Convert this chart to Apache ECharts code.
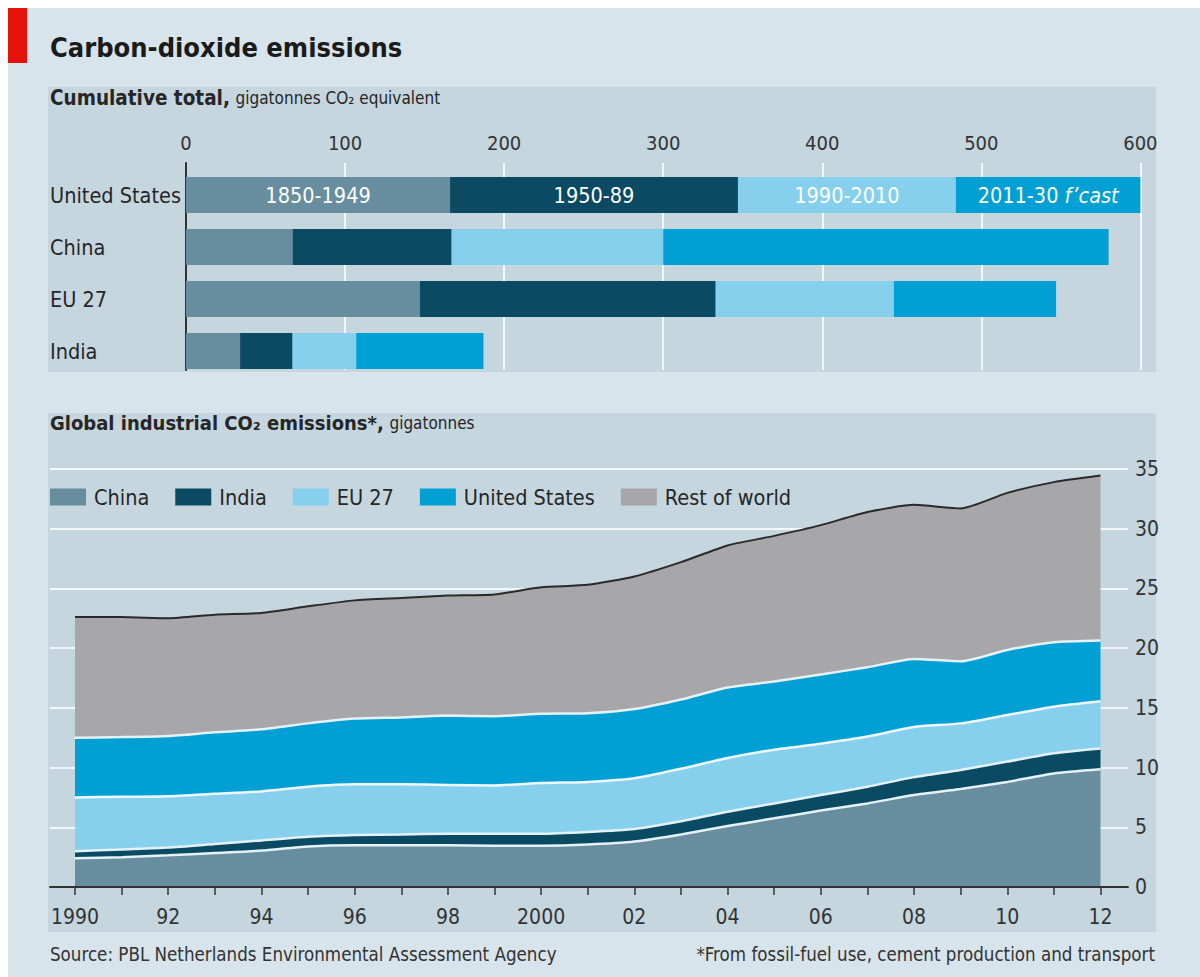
<!DOCTYPE html>
<html><head><meta charset="utf-8">
<script src="https://cdn.jsdelivr.net/npm/echarts@6/dist/echarts.min.js"></script>
<style>
body{margin:0;background:#fff;width:1200px;height:977px;position:relative;overflow:hidden}
#bg{position:absolute;left:8px;top:8px;width:1192px;height:969px;background:#d8e4eb}
.panel{position:absolute;background:#c5d6df}
#p1{left:48px;top:87px;width:1108px;height:285px}
#p2{left:48px;top:413px;width:1108px;height:519px}
#red{position:absolute;left:8px;top:8px;width:19px;height:55px;background:#e3120b}
#chart{position:absolute;left:0;top:0;width:1200px;height:977px}
</style></head>
<body>
<div id="bg"></div><div id="p1" class="panel"></div><div id="p2" class="panel"></div><div id="red"></div>
<div id="chart"></div>
<script>
// ---- Top chart: cumulative totals, gigatonnes CO2 equivalent ----
const barCountries = ['United States', 'China', 'EU 27', 'India'];
const p1850_1949 = [166, 67, 147, 34];
const p1950_89   = [181, 100, 186, 33];
const p1990_2010 = [137, 133, 112, 40];
const p2011_30   = [119, 280, 102, 80];
const barTicks = [0, 100, 200, 300, 400, 500, 600];

// ---- Bottom chart: global industrial CO2 emissions, gigatonnes ----
const years = ['1990','1991','1992','1993','1994','1995','1996','1997','1998','1999','2000','2001','2002','2003','2004','2005','2006','2007','2008','2009','2010','2011','2012'];
const china = [2.4, 2.5, 2.65, 2.85, 3.05, 3.4, 3.5, 3.5, 3.5, 3.45, 3.45, 3.55, 3.8, 4.4, 5.1, 5.75, 6.4, 7.0, 7.7, 8.2, 8.8, 9.5, 9.85];
const india = [0.6, 0.65, 0.65, 0.75, 0.85, 0.8, 0.85, 0.9, 0.95, 1.0, 1.0, 1.05, 1.05, 1.1, 1.2, 1.25, 1.3, 1.4, 1.5, 1.6, 1.7, 1.7, 1.75];
const eu27  = [4.5, 4.4, 4.3, 4.2, 4.1, 4.2, 4.25, 4.2, 4.1, 4.05, 4.25, 4.2, 4.25, 4.4, 4.5, 4.5, 4.3, 4.2, 4.2, 3.9, 3.9, 3.9, 3.95];
const us    = [5.0, 5.0, 5.05, 5.15, 5.2, 5.3, 5.5, 5.6, 5.8, 5.8, 5.8, 5.75, 5.8, 5.8, 5.9, 5.7, 5.8, 5.8, 5.7, 5.2, 5.45, 5.4, 5.1];
const rest  = [10.1, 10.05, 9.85, 9.85, 9.75, 9.8, 9.9, 10.0, 10.05, 10.2, 10.6, 10.75, 11.1, 11.5, 11.9, 12.2, 12.5, 13.0, 12.9, 12.8, 13.15, 13.4, 13.8];
const areaTicks = [0, 5, 10, 15, 20, 25, 30, 35];

const FONT = "'DejaVu Sans Condensed','Liberation Sans Narrow','Open Sans',sans-serif";
const C = {c1:'#678d9e', c2:'#0b4a63', c3:'#86d0ee', c4:'#00a0d4', c5:'#a7a6a8'};
const TXT = '#262626';

const chart = echarts.init(document.getElementById('chart'), null, {renderer:'svg'});

function firstLabel(arr, text, rich){
  return arr.map((v,i)=> i===0 ? {value:v, label:{show:true, formatter:text, rich:rich}} : v);
}
const barLabel = {show:false, position:'inside', color:'#fff', fontSize:21.5, fontFamily:FONT};
const italicRich = {i:{fontStyle:'italic', color:'#fff', fontSize:21.5, fontFamily:FONT}};

const option = {
  animation:false,
  backgroundColor:'transparent',
  textStyle:{fontFamily:FONT},
  title:[
    {left:50, top:34, padding:0, text:'Carbon-dioxide emissions', textStyle:{fontFamily:FONT, fontSize:27, fontWeight:'bold', color:'#1b1b1b'}},
    {left:50, top:87, padding:0, text:'{b|Cumulative total,} {r|gigatonnes CO₂ equivalent}',
      textStyle:{rich:{b:{fontFamily:FONT, fontSize:20.5, fontWeight:'bold', color:TXT}, r:{fontFamily:FONT, fontSize:17, fontWeight:'normal', color:TXT}}}},
    {left:50, top:413, padding:0, text:'{b|Global industrial CO₂ emissions*,} {r|gigatonnes}',
      textStyle:{rich:{b:{fontFamily:FONT, fontSize:20, fontWeight:'bold', color:TXT}, r:{fontFamily:FONT, fontSize:17, fontWeight:'normal', color:TXT}}}},
    {left:50, top:945, padding:0, text:'Source: PBL Netherlands Environmental Assessment Agency', textStyle:{fontFamily:FONT, fontSize:18.6, fontWeight:'normal', color:'#333'}},
    {right:45, top:945, padding:0, text:'*From fossil-fuel use, cement production and transport', textStyle:{fontFamily:FONT, fontSize:18.6, fontWeight:'normal', color:'#333'}}
  ],
  legend:{
    left:45, top:481, itemWidth:36, itemHeight:17, itemGap:26, icon:'rect',
    textStyle:{fontFamily:FONT, fontSize:21.5, color:TXT, padding:[0,0,0,3]},
    data:['China','India','EU 27','United States','Rest of world']
  },
  grid:[
    {left:186, width:954.4, top:163, height:207},
    {left:186, width:954.4, top:169, height:208},
    {left:50, right:72, top:469, height:418},
    {left:75, right:99.5, top:469, height:418}
  ],
  xAxis:[
    {gridIndex:0, type:'value', position:'top', min:0, max:600, interval:100,
      axisLine:{show:false}, axisTick:{show:false},
      axisLabel:{fontSize:20, color:'#333', fontFamily:FONT, margin:10},
      splitLine:{show:true, lineStyle:{color:'#f3f7f9', width:2}}},
    {gridIndex:1, type:'value', min:0, max:600, show:false},
    {gridIndex:2, type:'value', min:0, max:1, z:10,
      axisLine:{show:true, lineStyle:{color:'#333', width:2}}, axisTick:{show:false}, axisLabel:{show:false}, splitLine:{show:false}},
    {gridIndex:3, type:'category', data:years, boundaryGap:false, z:11,
      axisLine:{show:false},
      axisTick:{show:true, interval:0, length:8, lineStyle:{color:'#333', width:1.5}},
      axisLabel:{interval:1, fontSize:21, color:'#333', fontFamily:FONT, margin:19,
        formatter:(v)=> (v==='1990'||v==='2000') ? v : v.slice(2)},
      splitLine:{show:false}}
  ],
  yAxis:[
    {gridIndex:0, type:'value', min:0, max:1, axisLine:{show:true, onZero:false, lineStyle:{color:'#333', width:2}},
      axisTick:{show:false}, axisLabel:{show:false}, splitLine:{show:false}},
    {gridIndex:1, type:'category', data:barCountries, inverse:true,
      axisLine:{show:false}, axisTick:{show:false},
      axisLabel:{align:'left', margin:136, fontSize:21.5, color:TXT, fontFamily:FONT}},
    {gridIndex:2, type:'value', position:'right', min:0, max:35, interval:5,
      axisLine:{show:false}, axisTick:{show:false},
      axisLabel:{fontSize:21, color:'#333', fontFamily:FONT, margin:7},
      splitLine:{show:true, lineStyle:{color:'#f3f7f9', width:2}}},
    {gridIndex:3, type:'value', min:0, max:35, show:false}
  ],
  series:[
    {name:'1850-1949', type:'bar', xAxisIndex:1, yAxisIndex:1, stack:'b', barWidth:36, itemStyle:{color:C.c1}, label:barLabel,
      data:firstLabel(p1850_1949, '1850-1949')},
    {name:'1950-89', type:'bar', xAxisIndex:1, yAxisIndex:1, stack:'b', barWidth:36, itemStyle:{color:C.c2}, label:barLabel,
      data:firstLabel(p1950_89, '1950-89')},
    {name:'1990-2010', type:'bar', xAxisIndex:1, yAxisIndex:1, stack:'b', barWidth:36, itemStyle:{color:C.c3}, label:barLabel,
      data:firstLabel(p1990_2010, '1990-2010')},
    {name:'2011-30 f’cast', type:'bar', xAxisIndex:1, yAxisIndex:1, stack:'b', barWidth:36, itemStyle:{color:C.c4}, label:barLabel,
      data:firstLabel(p2011_30, '2011-30 {i|f’cast}', italicRich)},

    {name:'China', type:'line', xAxisIndex:3, yAxisIndex:3, stack:'a', data:china, symbol:'none', smooth:0.2,
      itemStyle:{color:C.c1}, areaStyle:{color:C.c1, opacity:1}, lineStyle:{color:'#e4f2f8', width:2.5}},
    {name:'India', type:'line', xAxisIndex:3, yAxisIndex:3, stack:'a', data:india, symbol:'none', smooth:0.2,
      itemStyle:{color:C.c2}, areaStyle:{color:C.c2, opacity:1}, lineStyle:{color:'#e4f2f8', width:2.5}},
    {name:'EU 27', type:'line', xAxisIndex:3, yAxisIndex:3, stack:'a', data:eu27, symbol:'none', smooth:0.2,
      itemStyle:{color:C.c3}, areaStyle:{color:C.c3, opacity:1}, lineStyle:{color:'#eef8fc', width:2.5}},
    {name:'United States', type:'line', xAxisIndex:3, yAxisIndex:3, stack:'a', data:us, symbol:'none', smooth:0.2,
      itemStyle:{color:C.c4}, areaStyle:{color:C.c4, opacity:1}, lineStyle:{color:'#e4f2f8', width:2.5}},
    {name:'Rest of world', type:'line', xAxisIndex:3, yAxisIndex:3, stack:'a', data:rest, symbol:'none', smooth:0.2,
      itemStyle:{color:C.c5}, areaStyle:{color:C.c5, opacity:1}, lineStyle:{color:'#2a2a2a', width:2}}
  ]
};
chart.setOption(option);
</script>
</body></html>
